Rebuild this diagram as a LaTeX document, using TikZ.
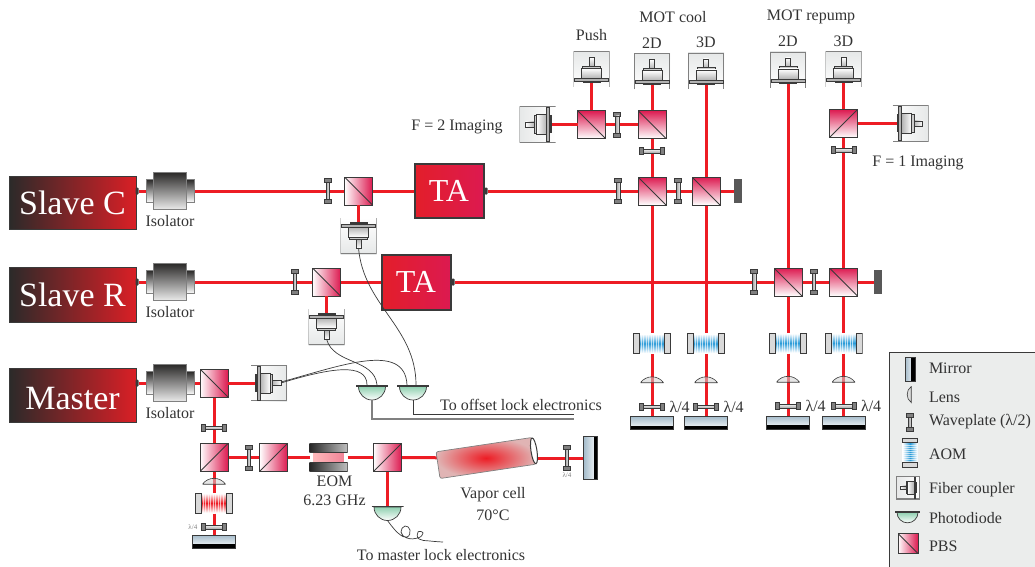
\documentclass[tikz,border=0pt]{standalone}
\usepackage{fontspec}
\setmainfont{Liberation Serif}
\usepackage{tikz}
\usetikzlibrary{positioning,backgrounds,shapes,calc}
\definecolor{beamred}{HTML}{ED1C24}
\definecolor{pbsred}{HTML}{DC1A50}
\definecolor{tared}{HTML}{E31E2A}
\definecolor{dkgrey}{HTML}{3A3A3A}
\definecolor{txtgrey}{HTML}{333333}
\definecolor{cgrey}{HTML}{E6E8E8}
\definecolor{legbg}{HTML}{EBEDEC}
\definecolor{pdgreen}{HTML}{8FD0B0}
\definecolor{mirrblue}{HTML}{A5BCCB}
\definecolor{aomblue}{HTML}{2A9BD8}
\definecolor{laserdark}{HTML}{2B2A29}
\definecolor{laserred}{HTML}{DA1F26}
\definecolor{cellend}{HTML}{E0B4B4}

% icons drawn inside the nodes
\newcommand{\iconframe}[2]{\pgftransformshift{\pgfpointanchor{path picture bounding box}{center}}\pgftransformrotate{#1}\pgftransformscale{#2}}
\newcommand{\couplericon}[2]{\begin{scope}\iconframe{#1}{#2}
	\draw[gray,line width=.9] (-17.6,-18)--(-17.6,17.6)--(17.6,17.6)--(17.6,-18);
	\draw[dkgrey,line width=.5,top color=white,bottom color=gray!60,shading angle=#1] (-2.5,3) rectangle (2.5,12);
	\draw[dkgrey,line width=.5,fill=gray!40] (-9,1) rectangle (9,3.5);
	\draw[dkgrey,line width=.5,top color=white,bottom color=gray!60,shading angle=#1] (-10,-9) rectangle (10,1);
	\draw[dkgrey,line width=.5,fill=gray!60] (-17,-12) rectangle (17,-9);
	\fill[dkgrey] (-9,-14) rectangle (9,-12);
\end{scope}}
\newcommand{\pdicon}[1]{\begin{scope}\iconframe{0}{#1}
	\draw[dkgrey,line width=.7,top color=pdgreen,bottom color=white] (-13.5,6) arc (180:360:13.5) -- cycle;
	\draw[dkgrey,line width=1.6] (-16,6.7) -- (16,6.7);
\end{scope}}
\newcommand{\lensicon}[2]{\begin{scope}\iconframe{#1}{#2}
	\filldraw[draw=dkgrey,line width=.6,fill=gray!35,fill opacity=.55] (-11.5,-3.2) .. controls (-6,4.6) and (6,4.6) .. (11.5,-3.2) -- cycle;
\end{scope}}
\newcommand{\aomicon}[3]{\begin{scope}\iconframe{#1}{#2}
	\shade[top color=white,bottom color=white,middle color=#3,shading angle=#1] (-13,-9.5) rectangle (13,9.5);
	\foreach \xs in {-11,-8.5,...,11} \draw[white,line width=.8,opacity=.65] (\xs,-9.5) -- (\xs,9.5);
	\draw[dkgrey,line width=.7,fill=gray!30] (-18.6,-10) rectangle (-12.6,10);
	\draw[dkgrey,line width=.7,fill=gray!30] (12.6,-10) rectangle (18.6,10);
\end{scope}}

\begin{document}
\begin{tikzpicture}[x=1pt,y=1pt]
	\useasboundingbox (0,0) rectangle (1035,566);
	% styles of the parts
	\tikzstyle{lab} = [font=\fontsize{16}{19}\selectfont,text=txtgrey,inner sep=0pt,outer sep=0pt]
	\tikzstyle{tiny} = [font=\fontsize{7}{8}\selectfont,text=gray,inner sep=0pt]
	\tikzstyle{laser} = [rectangle,draw=dkgrey,line width=.8,left color=laserdark,right color=laserred,minimum width=127pt,text=white,font=\fontsize{34}{38}\selectfont,inner sep=0pt,outer sep=0pt]
	\tikzstyle{bump} = [rectangle,fill=dkgrey,rounded corners=1pt,minimum width=3pt,minimum height=7pt,inner sep=0pt,outer sep=0pt]
	\tikzstyle{isoflange} = [rectangle,draw=gray,line width=.7,top color=laserdark,bottom color=white,minimum width=48pt,minimum height=23pt,inner sep=0pt,outer sep=0pt]
	\tikzstyle{isobody} = [rectangle,draw=gray,line width=.7,top color=laserdark,bottom color=white!92!black,minimum width=33pt,minimum height=37pt,inner sep=0pt,outer sep=0pt]
	\tikzstyle{ta} = [rectangle,draw=dkgrey,line width=2pt,left color=tared,right color=pbsred,text=white,minimum width=69pt,font=\fontsize{32}{36}\selectfont,inner sep=0pt,outer sep=0pt]
	\tikzstyle{pbs} = [rectangle,draw=dkgrey,line width=.8,minimum size=28pt,inner sep=0pt,outer sep=0pt,left color=white,right color=pbsred]
	\tikzstyle{pbsa} = [pbs,path picture={\draw[dkgrey,line width=.8] (path picture bounding box.north west) -- (path picture bounding box.south east);}]
	\tikzstyle{pbsb} = [pbs,path picture={\draw[dkgrey,line width=.8] (path picture bounding box.south west) -- (path picture bounding box.north east);}]
	\tikzstyle{pbsc} = [pbsa,top color=pbsred,bottom color=white]
	\tikzstyle{pbsd} = [pbsb,top color=pbsred,bottom color=white]
	\tikzstyle{wave} = [rectangle,draw=dkgrey,line width=.6,left color=gray!70,right color=gray!15,minimum width=3.5pt,minimum height=17pt,inner sep=0pt,outer sep=0pt,
		append after command={\pgfextra{\draw[dkgrey,line width=.6,fill=gray] ([xshift=-3.5pt]\tikzlastnode.north) rectangle ([xshift=3.5pt,yshift=4pt]\tikzlastnode.north);
		\draw[dkgrey,line width=.6,fill=gray] ([xshift=-3.5pt]\tikzlastnode.south) rectangle ([xshift=3.5pt,yshift=-4pt]\tikzlastnode.south);}}]
	\tikzstyle{waveh} = [rectangle,draw=dkgrey,line width=.6,top color=gray!15,bottom color=gray!70,minimum width=17pt,minimum height=3.5pt,inner sep=0pt,outer sep=0pt,
		append after command={\pgfextra{\draw[dkgrey,line width=.6,fill=gray] ([yshift=-3.5pt]\tikzlastnode.west) rectangle ([yshift=3.5pt,xshift=-4pt]\tikzlastnode.west);
		\draw[dkgrey,line width=.6,fill=gray] ([yshift=-3.5pt]\tikzlastnode.east) rectangle ([yshift=3.5pt,xshift=4pt]\tikzlastnode.east);}}]
	\tikzstyle{coupler} = [rectangle,inner sep=0pt,outer sep=0pt,minimum size=36pt,top color=cgrey,bottom color=white,shading angle=#1,path picture={\couplericon{#1}{1}}]
	\tikzstyle{aom} = [rectangle,inner sep=0pt,outer sep=0pt,minimum width=38pt,minimum height=21pt,path picture={\aomicon{0}{1}{#1}}]
	\tikzstyle{lens} = [rectangle,inner sep=0pt,outer sep=0pt,minimum width=23pt,minimum height=7pt,path picture={\lensicon{0}{1}}]
	\tikzstyle{mirror} = [rectangle,draw=dkgrey,line width=.7,top color=mirrblue,bottom color=white,minimum width=43pt,minimum height=13pt,inner sep=0pt,outer sep=0pt,path picture={\fill[black] (path picture bounding box.south west) rectangle ([yshift=4pt]path picture bounding box.south east);}]
	\tikzstyle{mirrorv} = [rectangle,draw=dkgrey,line width=.7,left color=mirrblue,right color=white,minimum width=14pt,minimum height=43pt,inner sep=0pt,outer sep=0pt,path picture={\fill[black] (path picture bounding box.south east) rectangle ([xshift=-4pt]path picture bounding box.north east);}]
	\tikzstyle{dump} = [rectangle,fill=dkgrey!85!white,minimum width=8pt,minimum height=24pt,inner sep=0pt,outer sep=0pt]
	\tikzstyle{pd} = [rectangle,inner sep=0pt,outer sep=0pt,minimum width=32pt,minimum height=15pt,path picture={\pdicon{1}}]
	\tikzstyle{beam} = [beamred,line width=3pt]
	\tikzstyle{fiber} = [dkgrey,line width=.7]

	\node (legend) [rectangle,draw=dkgrey,line width=.7,fill=legbg,minimum width=150pt,minimum height=218pt,anchor=north west,inner sep=0pt] at (889,214) {};

	% Slave C line
	\node (slavec) [laser,minimum height=53pt] at (72.5,363.5) {Slave C};
	\node (outc) [bump] at (137,375) {};
	\node (isofc) [isoflange,right=7.5pt of outc] {};
	\node (isoc) [isobody] at (isofc) {};
	\node (labc) [lab,below=6pt of isoc] {Isolator};
	\node (wave1) [wave,right=132pt of isofc] {};
	\node (pbs1) [pbsa,right=15pt of wave1] {};
	\node (fc1) [coupler=180,below=13pt of pbs1] {};
	\node (ta1) [ta,minimum height=53pt,right=42pt of pbs1] {TA};
	\node (outt1) [bump,right=1pt of ta1] {};
	\node (wave2) [wave,right=129pt of outt1] {};
	\node (pbs9) [pbsc,right=18pt of wave2] {};
	\node (wave3) [wave,right=10.5pt of pbs9] {};
	\node (pbs10) [pbsc,right=12pt of wave3] {};
	\node (dump1) [dump,right=13.5pt of pbs10] {};
	\node (wave4) [waveh,above=24pt of pbs9] {};
	\node (pbs8) [pbsc,above=11pt of wave4] {};
	\node (fc2d) [coupler=0,above=21pt of pbs8] {};
	\node (fc3d) [coupler=0,above=88pt of pbs10] {};
	\node (wave5) [wave,left=19pt of pbs8] {};
	\node (pbs7) [pbsc,left=10pt of wave5] {};
	\node (fcpush) [coupler=0,above=23pt of pbs7] {};
	\node (fcf2) [coupler=90,left=22pt of pbs7] {};
	\node (labf2) [lab] at (457,439.5) {F = 2 Imaging};
	\node (labpush) [lab,above=11pt of fcpush] {Push};
	\node (lab2dc) [lab,above=5pt of fc2d] {2D};
	\node (lab3dc) [lab,above=5pt of fc3d] {3D};
	\node (labcool) [lab] at (673,549) {MOT cool};

	% Slave R line
	\node (slaver) [laser,minimum height=55pt] at (72.5,271.5) {Slave R};
	\node (outr) [bump] at (137,284) {};
	\node (isofr) [isoflange,right=7.5pt of outr] {};
	\node (isor) [isobody] at (isofr) {};
	\node (labr) [lab,below=6pt of isor] {Isolator};
	\node (wave6) [wave,right=99pt of isofr] {};
	\node (pbs2) [pbsa,right=16pt of wave6] {};
	\node (fc3) [coupler=180,below=13pt of pbs2] {};
	\node (ta2) [ta,minimum height=55pt,right=41pt of pbs2] {TA};
	\node (outt2) [bump,right=1pt of ta2] {};
	\node (wave7) [wave,right=298pt of outt2] {};
	\node (pbs12) [pbsc,right=18pt of wave7] {};
	\node (wave8) [wave,right=10pt of pbs12] {};
	\node (pbs13) [pbsc,right=14pt of wave8] {};
	\node (dump2) [dump,right=16pt of pbs13] {};
	\node (fc2r) [coupler=0,above=180pt of pbs12] {};
	\node (wave9) [waveh,above=116pt of pbs13] {};
	\node (pbs11) [pbsd,above=11pt of wave9] {};
	\node (fc3r) [coupler=0,above=22pt of pbs11] {};
	\node (fcf1) [coupler=-90,right=35pt of pbs11] {};
	\node (labf1) [lab] at (918,403.5) {F = 1 Imaging};
	\node (lab2dr) [lab,above=5pt of fc2r] {2D};
	\node (lab3dr) [lab,above=5pt of fc3r] {3D};
	\node (labrep) [lab] at (811,549.5) {MOT repump};

	% double pass columns
	\node (aom1) [aom=aomblue,below=128pt of pbs9] {};
	\node (lens1) [lens,below=22pt of aom1] {};
	\node (wave21) [waveh,below=22pt of lens1] {};
	\node (mir1) [mirror,below=8pt of wave21] {};
	\node (lam1) [lab,right=9pt of wave21] {λ/4};
	\node (aom2) [aom=aomblue,below=128pt of pbs10] {};
	\node (lens2) [lens,below=22pt of aom2] {};
	\node (wave22) [waveh,below=22pt of lens2] {};
	\node (mir2) [mirror,below=8pt of wave22] {};
	\node (lam2) [lab,right=9pt of wave22] {λ/4};
	\node (aom3) [aom=aomblue,below=36.5pt of pbs12] {};
	\node (lens3) [lens,below=22pt of aom3] {};
	\node (wave23) [waveh,below=22pt of lens3] {};
	\node (mir3) [mirror,below=8pt of wave23] {};
	\node (lam3) [lab,right=9pt of wave23] {λ/4};
	\node (aom4) [aom=aomblue,below=36.5pt of pbs13] {};
	\node (lens4) [lens,below=22pt of aom4] {};
	\node (wave24) [waveh,below=22pt of lens4] {};
	\node (mir4) [mirror,below=8pt of wave24] {};
	\node (lam4) [lab,right=9pt of wave24] {λ/4};

	% Master line
	\node (master) [laser,minimum height=54pt] at (72.5,171) {\raisebox{-3pt}[\height][0pt]{Master}};
	\node (outm) [bump] at (137,183) {};
	\node (isofm) [isoflange,right=7.5pt of outm] {};
	\node (isom) [isobody] at (isofm) {};
	\node (labm) [lab,below=6pt of isom] {Isolator};
	\node (pbs3) [pbsa,right=6pt of isofm] {};
	\node (fcm) [coupler=-90,right=23pt of pbs3] {};
	\node (wave10) [waveh,below=29pt of pbs3] {};
	\node (pbs4) [pbsb,below=14pt of wave10] {};
	\node (wave11) [wave,right=19pt of pbs4] {};
	\node (pbs5) [pbsb,right=9pt of wave11] {};
	\node (eom) [rectangle,inner sep=0pt,outer sep=0pt,minimum width=38pt,minimum height=28pt,right=22pt of pbs5,
		path picture={\shade[left color=pink,right color=pink!60!pbsred] ([xshift=4pt]path picture bounding box.south west) rectangle ([xshift=-4pt]path picture bounding box.north east);
		\draw[dkgrey,line width=.5,left color=black!85,right color=black!25] (path picture bounding box.north west) rectangle ([yshift=-9pt]path picture bounding box.north east);
		\draw[dkgrey,line width=.5,left color=black!85,right color=black!25] (path picture bounding box.south west) rectangle ([yshift=9pt]path picture bounding box.south east);}] {};
	\node (labeom) [lab,align=center,below=4pt of eom,xshift=6pt] {EOM\\6.23 GHz};
	\node (pbs6) [pbsb,right=26pt of eom] {};
	\node (cell) [rectangle,rotate=8.5,draw=gray,line width=.7,rounded corners=2pt,shading=radial,inner color=beamred,outer color=cellend,minimum width=97pt,minimum height=27pt,inner sep=0pt,outer sep=0pt] at (486,108) {};
	\node (cellcap) [ellipse,rotate=8.5,draw=dkgrey,line width=1pt,fill=white,minimum width=6pt,minimum height=26pt,inner sep=0pt,outer sep=0pt] at (cell.east) {};
	\node (labcell) [lab,align=center] at (493,62) {Vapor cell\\[3pt]70°C};
	\node (wave12) [wave] at (567,108) {};
	\node (mir6) [mirrorv,right=15pt of wave12] {};
	\node (lam6) [tiny,below=6pt of wave12] {λ/4};
	\node (pd3) [pd,below=34pt of pbs6] {};
	\coordinate (wireend) at (443,24);
	\node (labmaster) [lab] at (441,11) {To master lock electronics};
	\node (lens5) [lens,below=6pt of pbs4] {};
	\node (aom5) [aom=beamred,below=8pt of lens5] {};
	\node (wave13) [waveh,below=12pt of aom5] {};
	\node (mir5) [mirror,below=6pt of wave13] {};
	\node (lam5) [tiny,left=8pt of wave13] {λ/4};

	% offset lock photodiodes
	\node (pda) [pd] at (372,173.5) {};
	\node (pdb) [pd,right=9pt of pda] {};
	\coordinate (enda) at (574,147);
	\coordinate (endb) at (574,152);
	\node (laboff) [lab] at (521,161) {To offset lock electronics};

	% legend
	\node (legmir) [mirrorv,minimum width=10pt,minimum height=24pt] at (910,197) {};
	\node (leglens) [rectangle,inner sep=0pt,minimum width=7pt,minimum height=17pt,path picture={\lensicon{90}{.7}}] at (909,171.5) {};
	\node (legwave) [wave,minimum height=10pt] at (910,144) {};
	\node (legaom) [rectangle,inner sep=0pt,minimum width=21pt,minimum height=30pt,path picture={\aomicon{90}{.78}{aomblue}}] at (910,113.5) {};
	\node (legfc) [rectangle,draw=gray,line width=.8,inner sep=0pt,minimum size=23pt,top color=cgrey,bottom color=white,shading angle=90,path picture={\couplericon{90}{.64}}] at (908,78.5) {};
	\node (legpd) [rectangle,inner sep=0pt,minimum width=25pt,minimum height=12pt,path picture={\pdicon{.78}}] at (907.5,49) {};
	\node (legpbs) [pbsa,minimum size=20pt] at (908,22.5) {};
	\node (tmir) [lab,anchor=west] at (929,198) {Mirror};
	\node (tlens) [lab,anchor=west] at (929,169) {Lens};
	\node (twave) [lab,anchor=west] at (929,144) {Waveplate (λ/2)};
	\node (taom) [lab,anchor=west] at (929,112) {AOM};
	\node (tfc) [lab,anchor=west] at (929,76) {Fiber coupler};
	\node (tpd) [lab,anchor=west] at (929,48) {Photodiode};
	\node (tpbs) [lab,anchor=west] at (929,20) {PBS};

	% laser beams
	\begin{scope}[on background layer]
		\draw [beam](outc) -- (isofc);
		\draw [beam](isofc) -- (wave1);
		\draw [beam](wave1) -- (pbs1);
		\draw [beam](pbs1) -- (ta1);
		\draw [beam](outt1) -- (wave2);
		\draw [beam](wave2) -- (pbs9);
		\draw [beam](pbs9) -- (wave3);
		\draw [beam](wave3) -- (pbs10);
		\draw [beam](pbs10) -- (dump1);
		\draw [beam](pbs9) -- (wave4);
		\draw [beam](wave4) -- (pbs8);
		\draw [beam](pbs8) -- (wave5);
		\draw [beam](wave5) -- (pbs7);
		\draw [beam](outr) -- (isofr);
		\draw [beam](isofr) -- (wave6);
		\draw [beam](wave6) -- (pbs2);
		\draw [beam](pbs2) -- (ta2);
		\draw [beam](outt2) -- (wave7);
		\draw [beam](wave7) -- (pbs12);
		\draw [beam](pbs12) -- (wave8);
		\draw [beam](wave8) -- (pbs13);
		\draw [beam](pbs13) -- (dump2);
		\draw [beam](pbs13) -- (wave9);
		\draw [beam](wave9) -- (pbs11);
		\draw [beam](pbs9) -- (aom1);
		\draw [beam](aom1) -- (lens1.center) -- (wave21);
		\draw [beam](wave21) -- (mir1);
		\draw [beam](pbs10) -- (aom2);
		\draw [beam](aom2) -- (lens2.center) -- (wave22);
		\draw [beam](wave22) -- (mir2);
		\draw [beam](pbs12) -- (aom3);
		\draw [beam](aom3) -- (lens3.center) -- (wave23);
		\draw [beam](wave23) -- (mir3);
		\draw [beam](pbs13) -- (aom4);
		\draw [beam](aom4) -- (lens4.center) -- (wave24);
		\draw [beam](wave24) -- (mir4);
		\draw [beam](outm) -- (isofm);
		\draw [beam](isofm) -- (pbs3);
		\draw [beam](pbs3) -- (wave10);
		\draw [beam](wave10) -- (pbs4);
		\draw [beam](pbs4) -- (wave11);
		\draw [beam](wave11) -- (pbs5);
		\draw [beam](pbs5) -- (eom);
		\draw [beam](eom) -- (pbs6);
		\draw [beam](pbs6) -- (cell);
		\draw [beam](cellcap |- wave12) -- (wave12);
		\draw [beam](wave12) -- (mir6);
		\draw [beam](pbs6) -- (pd3);
		\draw [beam](pbs4) -- (lens5.center) -- (aom5);
		\draw [beam](aom5) -- (wave13);
		\draw [beam](wave13) -- (mir5);
	\end{scope}

	% beams into the fiber couplers
	\draw [beam](pbs1) -- ([yshift=14pt]fc1.center);
	\draw [beam](pbs2) -- ([yshift=14pt]fc3.center);
	\draw [beam](pbs3) -- ([xshift=-14pt]fcm.center);
	\draw [beam](pbs7) -- ([xshift=14pt]fcf2.center);
	\draw [beam](pbs7) -- ([yshift=-14pt]fcpush.center);
	\draw [beam](pbs8) -- ([yshift=-14pt]fc2d.center);
	\draw [beam](pbs10) -- ([yshift=-14pt]fc3d.center);
	\draw [beam](pbs12) -- ([yshift=-14pt]fc2r.center);
	\draw [beam](pbs11) -- ([yshift=-14pt]fc3r.center);
	\draw [beam](pbs11) -- ([xshift=-14pt]fcf1.center);

	% fibers and cables
	\draw [fiber]([yshift=-12pt]fc1.center) to[out=-85,in=90] ([xshift=3pt]pdb.north);
	\draw [fiber]([yshift=-12pt]fc3.center) to[out=-75,in=95] ([xshift=5pt]pda.north);
	\draw [fiber]([xshift=12pt]fcm.center) .. controls (330,198) and (367,204) .. ([xshift=-5pt]pda.north);
	\draw [fiber]([xshift=12pt,yshift=1pt]fcm.center) .. controls (340,200) and (405,225) .. ([xshift=-6pt]pdb.north);
	\draw [fiber,line width=.6](pdb.south) |- (endb);
	\draw [fiber,gray,line width=1.2](pda.south) |- (enda);
	\draw [fiber] plot [smooth,tension=.8] coordinates {(pd3.south) (398,33) (407,29) (410,36) (405,40) (401,34) (407,28) (418,28) (423,33) (418,34) (419,27) (430,25) (wireend)};
\end{tikzpicture}
\end{document}
